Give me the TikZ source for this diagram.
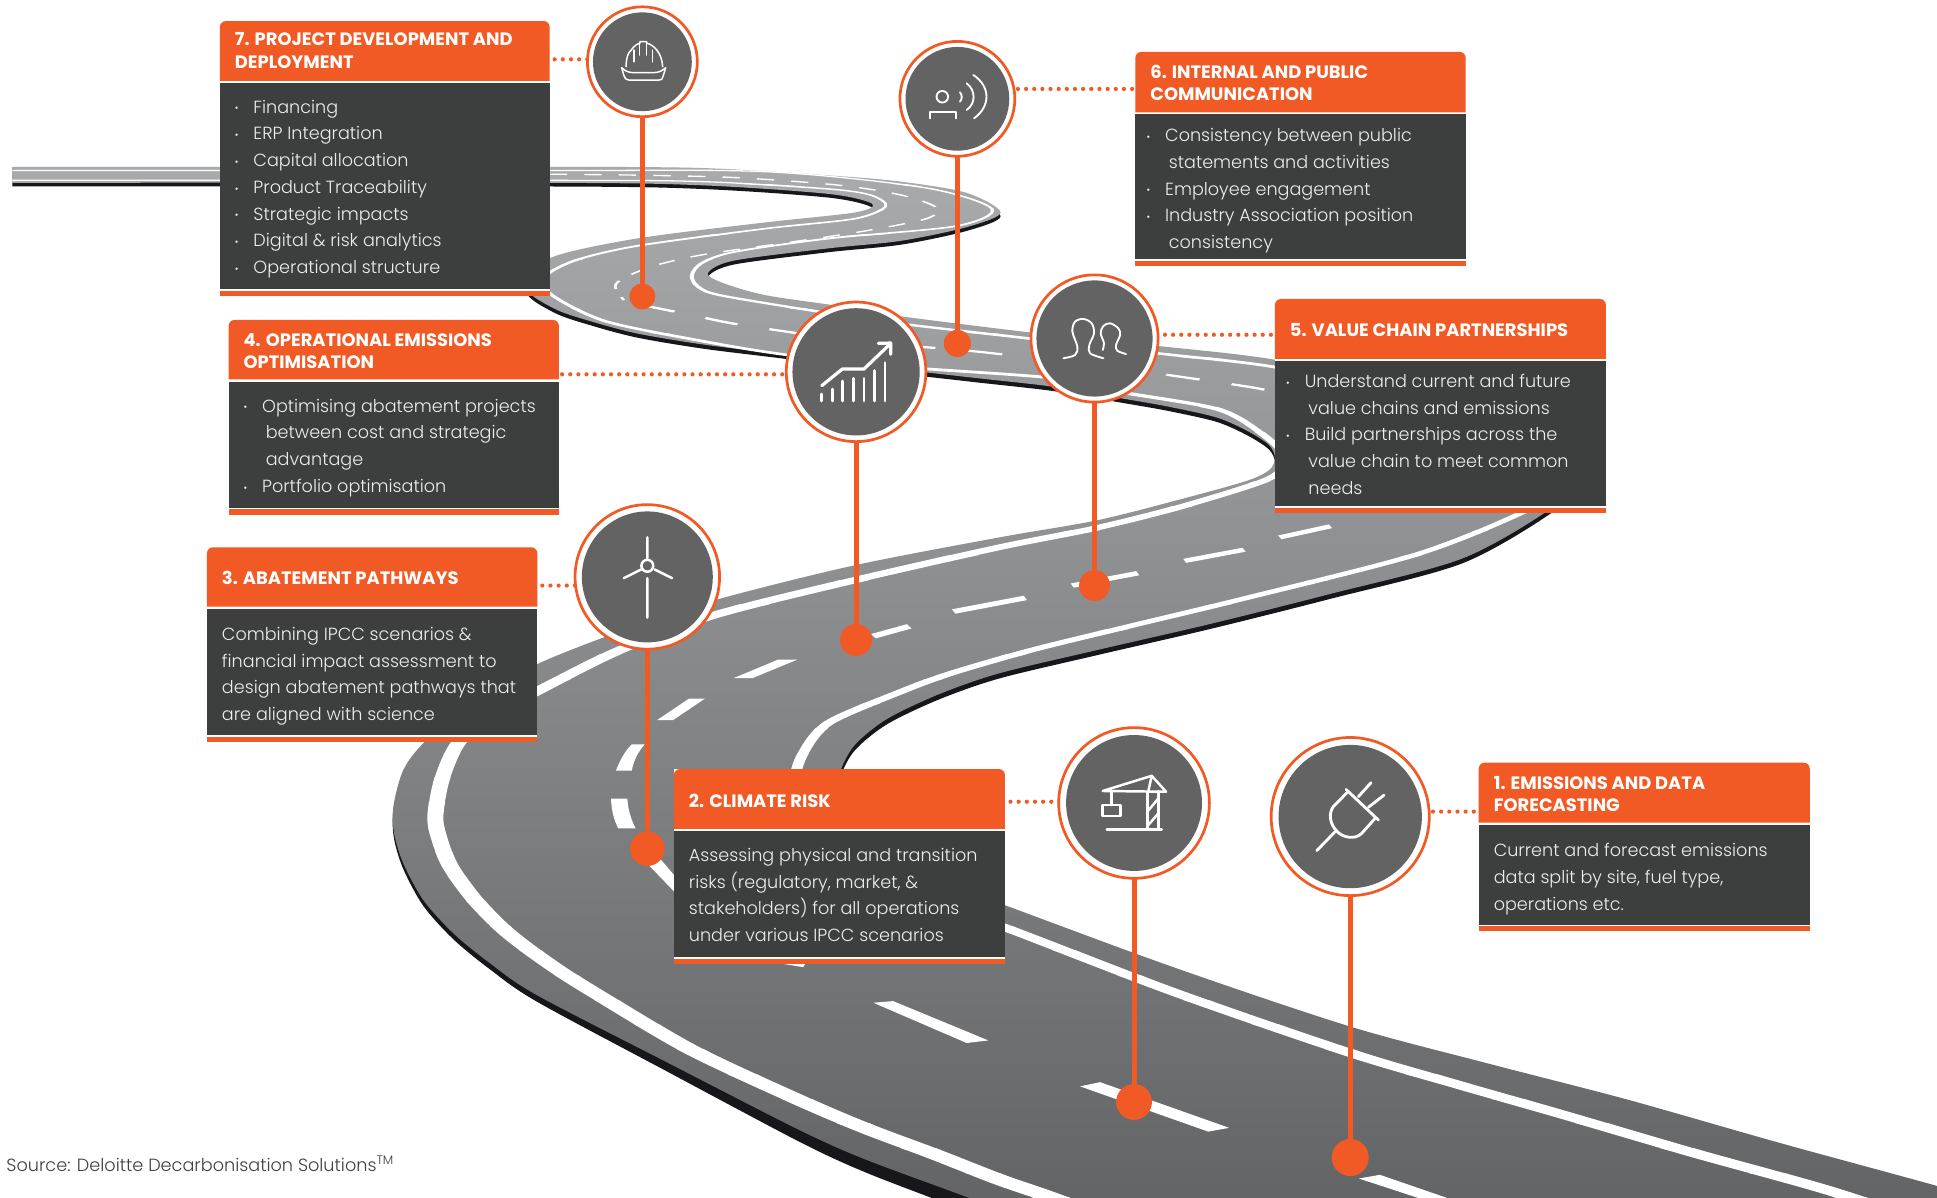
\documentclass[tikz,border=0pt]{standalone}
\usepackage{fontspec}
\setmainfont{Poppins Light}[BoldFont={Poppins Bold}]
\definecolor{og}{HTML}{F15A24}
\definecolor{boxd}{HTML}{3C3F3E}
\definecolor{disc}{HTML}{636363}
\definecolor{shadowk}{HTML}{17171B}
\definecolor{roadtop}{HTML}{A9AAAC}
\definecolor{roadbot}{HTML}{5E5F61}
\definecolor{bodytx}{HTML}{EDEDED}
\definecolor{srctx}{HTML}{404040}
\tikzset{
  ring/.style={circle,draw=og,line width=2.2pt,fill=white,inner sep=0pt,outer sep=0pt},
  discn/.style={circle,fill=disc,inner sep=0pt,outer sep=0pt},
  stem/.style={draw=og,line width=4pt},
  pin/.style={circle,fill=og,inner sep=0pt,outer sep=0pt},
  dotline/.style={draw=og,line width=3.4pt,line cap=round,dash pattern=on 0pt off 6.6pt},
  icon/.style={draw=white,line width=1.7pt,line cap=round,line join=round},
  hdrtx/.style={anchor=west,inner sep=0pt,align=left,text=white,font=\fontsize{14.5}{18}\selectfont\bfseries},
  bodytxt/.style={anchor=north west,inner sep=0pt,align=left,text=bodytx,font=\fontsize{14.25}{21.65}\selectfont},
}
\def\roadshape{plot[smooth,tension=.5] coordinates {(10,135)(300,135)(445,135)(568,136)(671,142)(729,147)(782,156)(810,172)(782,184)(729,195)(671,201)(594,211)(573,221)(585,229)(620,239)(681,248)(729,256)(833,269)(937,280)(1031,291)(1150,315)(1250,350)(1280,385)(1258,410)(1184,452)(1076,481)(980,505)(889,526)(809,545)(760,562)(718,582)(692,603)(680,625)(676,650)(695,685)(750,710)(814,733)(950,783)(1093,831)(1205,861)(1317,890)(1440,925)(1568,960)(1640,981)(1700,1000)}
 -- plot[smooth,tension=.5] coordinates {(950,1035)(870,1003)(782.5,969)(701.6,939)(647.6,915)(540,860)(434.5,805.5)(396.7,779.8)(367,755.5)(342.7,728.6)(326.5,698.9)(319,674.5)(318.4,653)(326.5,623.3)(344,600.4)(385,567)(434,538)(505,510)(578,486)(690,458)(809,435)(889,421)(960,403)(1010,389)(1028,380)(1032,370)(1027,360)(1010,349)(985,338)(945,329)(905,322)(852,313)(790,306)(729,299)(635,287)(570,279)(516,270)(478,260)(449,250)(426,233)(445,209)(516,193)(620,180)(692,172)(706,165)(671,157)(568,150)(445,148)(10,148)}
 -- cycle}
\def\whiteA{plot[smooth,tension=.5] coordinates {(10,138)(445,138)(620,139)(749,152)(803,169)(774,183)(671,193)(594,204)(568,213)(560,223)(565,232)(583,239)(661,252)(729,262)(833,274)(937,286)(1031,297)(1140,320)(1240,365)(1262,395)(1232,415)(1146,449)(1001,486)(918,506)(836,526)(770,545)(729,560)(671,585)(650,610)(643,635)(650,665)(680,695)(740,725)(814,751)(950,803)(1092,852)(1180,878)(1264,902)(1370,933)(1478,963)(1560,990)(1640,1015)}}
\def\whiteB{plot[smooth,tension=.5] coordinates {(10,146)(445,146)(568,147)(671,153)(705,158)(717,167)(692,177)(620,185)(516,199)(465,211)(440,225)(447,239)(490,260)(568,276)(635,287)(729,297)(852,306)(905,317)(985,331)(1020,350)(1040,370)(1028,387)(960,409)(889,427)(809,443)(690,470)(578,498)(500,527)(434,560)(400,578)(371.8,600.4)(358,630)(352.4,661)(356,680)(364.8,701.6)(384.5,728.6)(411.5,755.5)(448,782.5)(484.4,805.5)(560,850)(647.6,890.8)(701.6,913.7)(755.5,933.9)(809.5,955)(850,969)(920,995)}}
\newcommand{\cardbox}[7]{% x1 x2 y1 y2 y3 y4 y5
  \fill[white] (#1,#3) rectangle (#2,#7);
  \fill[og] (#1,#4) [rounded corners=5pt] -- (#1,#3) -- (#2,#3) [sharp corners] -- (#2,#4) -- cycle;
  \fill[boxd] (#1,#5) rectangle (#2,#6);
  \fill[og] (#1,#6+1.4) rectangle (#2,#7);
}
\newcommand{\bl}{\makebox[15pt][l]{\raisebox{1pt}{\fontsize{8}{8}\selectfont •}}}
\newcommand{\cn}{\hspace*{18pt}}
\begin{document}
\begin{tikzpicture}[x=1pt,y=-1pt]
\useasboundingbox (0,0) rectangle (1568,969);
\fill[white] (0,0) rectangle (1568,969);
\begin{scope}
\clip (0,0) rectangle (1568,969);
% road shadow
\begin{scope}[yshift=-2.5pt,yscale=1.0031]
\fill[shadowk] \roadshape;
\end{scope}
\begin{scope}
\clip (0,780) rectangle (1000,1000);
\begin{scope}[yshift=26.2pt,yscale=1.039]
\fill[shadowk] \roadshape;
\end{scope}
\end{scope}
% road surface
\shade[top color=roadtop,bottom color=roadbot] \roadshape;
% white lines and dashes: the pen is flattened by the perspective
\begin{scope}[transform canvas={yscale=0.5},y=-2pt]
\foreach \b in {130,150,...,990}{
  \pgfmathsetmacro\ym{\b+10}
  \pgfmathsetmacro\wa{2+0.0143*(\ym-135)}
  \pgfmathsetmacro\wb{\ym<300 ? 2+0.015*(\ym-135) : (\ym<500 ? 4.5+0.0315*(\ym-300) : 10.8+0.0137*(\ym-500))}
  \begin{scope}
  \clip (0,\b-0.3) rectangle (1600,\b+20.3);
  \draw[white,line width=\wa pt] \whiteA;
  \draw[white,line width=\wb pt] \whiteB;
  \end{scope}
}
\draw[white,line width=2.2pt,dash pattern=on 14pt off 14pt] plot[smooth,tension=.5] coordinates {(445,141)(530,142)(600,144)(680,150)(730,158)(758,168)(750,177)(700,187)(640,196)(570,206)(530,215)(505,225)(498,232)(505,243)};
\draw[white,line width=3.6pt,dash pattern=on 28pt off 27pt] plot[smooth,tension=.5] coordinates {(520,247)(560,255)(600,263)(700,277)(785,284)(900,297)(935,302)(1010,313)(1030,317)};
\foreach \ax/\ay/\bx/\by in {1036/435/1077/426,959/454/1007/445,868/474/921/464,772/495/830/484,707/515/736/507,633/777/652/780}{
  \pgfmathsetmacro\w{2+0.0155*(\ay-135)}
  \draw[white,line width=\w pt] (\ax,\ay) -- (\bx,\by);
}
\end{scope}
\fill[white] (498.6,623.9) .. controls (502,615) and (506,608) .. (511.4,602.5) -- (521.9,602.5) .. controls (517,608) and (513,615) .. (511.4,623.9) -- cycle;
\fill[white] (494.6,646.5) .. controls (495,656) and (497,664) .. (500.5,670.6) -- (514.6,670.6) .. controls (511,664) and (508.5,656) .. (507.8,646.5) -- cycle;
\fill[white] (531.8,583) -- (544.7,583) -- (570.5,565.6) -- (557.6,565.6) -- cycle;
\fill[white] (593.7,549) -- (609,549) -- (645.3,534) -- (629.8,534) -- cycle;
\fill[white] (520,695) -- (530,690) -- (547,710) -- (547,723) -- cycle;
\fill[white] (707,811.7) -- (723,810.4) -- (800,842.2) -- (782.5,844.3) -- cycle;
\fill[white] (874.3,879.4) -- (890.5,876) -- (995,913) -- (978,916) -- cycle;
\fill[white] (1100,954) -- (1117,951) -- (1178,972) -- (1155,972) -- cycle;
\end{scope}
% cards
\cardbox{178}{445}{17}{65.5}{67}{234}{240}
\cardbox{919}{1186.5}{42}{91}{92.5}{209.7}{215}
\cardbox{1032}{1300}{242}{290.6}{292}{409.5}{415}
\cardbox{185}{452.5}{259}{307}{309}{411}{417}
\cardbox{167.5}{435}{443}{491}{493}{595}{601}
\cardbox{545.5}{813.5}{622.5}{671}{673}{774.7}{780}
\cardbox{1197}{1465}{617.3}{666}{668}{748.5}{754}
% header texts
\node[hdrtx] (h7) at (190,41) {7. PROJECT DEVELOPMENT AND\\DEPLOYMENT};
\node[hdrtx] (h6) at (931,67) {6. INTERNAL AND PUBLIC\\COMMUNICATION};
\node[hdrtx] (h5) at (1044,267) {5. VALUE CHAIN PARTNERSHIPS};
\node[hdrtx] (h4) at (197,284) {4. OPERATIONAL EMISSIONS\\OPTIMISATION};
\node[hdrtx] (h3) at (179.5,468) {3. ABATEMENT PATHWAYS};
\node[hdrtx] (h2) at (557.5,648) {2. CLIMATE RISK};
\node[hdrtx] (h1) at (1209,642.5) {1. EMISSIONS AND DATA\\FORECASTING};
% body texts
\node[bodytxt] (b7) at (190,76.3) {\strut\bl Financing\\\bl ERP Integration\\\bl Capital allocation\\\bl Product Traceability\\\bl Strategic impacts\\\bl Digital \& risk analytics\\\bl Operational structure};
\node[bodytxt] (b6) at (928,99.3) {\strut\bl Consistency between public\\\cn statements and activities\\\bl Employee engagement\\\bl Industry Association position\\\cn consistency};
\node[bodytxt] (b5) at (1041,298.3) {\strut\bl Understand current and future\\\cn value chains and emissions\\\bl Build partnerships across the\\\cn value chain to meet common\\\cn needs};
\node[bodytxt] (b4) at (197,318.3) {\strut\bl Optimising abatement projects\\\cn between cost and strategic\\\cn advantage\\\bl Portfolio optimisation};
\node[bodytxt] (b3) at (179.5,503) {\strut Combining IPCC scenarios \&\\financial impact assessment to\\design abatement pathways that\\are aligned with science};
\node[bodytxt] (b2) at (557.5,682) {\strut Assessing physical and transition\\risks (regulatory, market, \&\\stakeholders) for all operations\\under various IPCC scenarios};
\node[bodytxt] (b1) at (1209,678) {\strut Current and forecast emissions\\data split by site, fuel type,\\operations etc.};
% circle centres, pins, stems, dotted connectors
\path (520,50) coordinate (o7) (775,80) coordinate (o6) (693,301) coordinate (o4) (886,274) coordinate (o5) (524,467) coordinate (o3) (918,650) coordinate (o2) (1093,661) coordinate (o1);
\node[pin,minimum size=21] (p7) at (520,240) {};
\node[pin,minimum size=22] (p6) at (775,278) {};
\node[pin,minimum size=26] (p4) at (693,518) {};
\node[pin,minimum size=25] (p5) at (886,474) {};
\node[pin,minimum size=28] (p3) at (524,687) {};
\node[pin,minimum size=29] (p2) at (918,892) {};
\node[pin,minimum size=30] (p1) at (1093,937) {};
\draw[stem] (o7) -- (p7);
\draw[stem] (o6) -- (p6);
\draw[stem] (o4) -- (p4);
\draw[stem] (o5) -- (p5);
\draw[stem] (o3) -- (p3);
\draw[stem] (o2) -- (p2);
\draw[stem] (o1) -- (p1);
\coordinate (d7) at (449,48);
\coordinate (d6) at (824,72);
\coordinate (d4) at (455,303);
\coordinate (d5) at (943,271);
\coordinate (d3) at (439,474);
\coordinate (d2) at (818,649);
\coordinate (d1) at (1160,657);
\draw[dotline] (d7) -- (d7 -| o7);
\draw[dotline] (d6) -- (d6 -| h6.west);
\draw[dotline] (d4) -- (d4 -| o4);
\draw[dotline] (d5) -- (d5 -| h5.west);
\draw[dotline] (d3) -- (d3 -| o3);
\draw[dotline] (d2) -- (d2 -| o2);
\draw[dotline] (d1) -- (d1 -| h1.west);
\node[ring,minimum size=89] (c7) at (o7) {};
\node[discn,minimum size=80] (i7) at (o7) {};
\node[ring,minimum size=93] (c6) at (o6) {};
\node[discn,minimum size=84] (i6) at (o6) {};
\node[ring,minimum size=113] (c4) at (o4) {};
\node[discn,minimum size=103] (i4) at (o4) {};
\node[ring,minimum size=103] (c5) at (o5) {};
\node[discn,minimum size=94] (i5) at (o5) {};
\node[ring,minimum size=117] (c3) at (o3) {};
\node[discn,minimum size=106] (i3) at (o3) {};
\node[ring,minimum size=122] (c2) at (o2) {};
\node[discn,minimum size=110] (i2) at (o2) {};
\node[ring,minimum size=128] (c1) at (o1) {};
\node[discn,minimum size=116] (i1) at (o1) {};
% icon: helmet
\begin{scope}[icon/.append style={line width=1.2pt}]
\draw[icon] (506.8,54) .. controls (507,47) and (508,43) .. (511,40.5) .. controls (513,37.5) and (515.5,35.5) .. (518,35) -- (518,33.7) -- (523.5,33.7) -- (523.5,35) .. controls (529,36) and (536,43) .. (536.4,54);
\draw[icon] (517.6,35) -- (517.6,44.6) (523.5,35) -- (523.5,44.6) (513.3,40.5) -- (513.3,50) (528.4,40.5) -- (528.4,50);
\draw[icon] (503.2,54.8) .. controls (506,57.5) and (509,58.8) .. (512.6,58.8) -- (528.9,58.8) .. controls (533,58.8) and (536,57.5) .. (538.9,54.8) -- (537,61) .. controls (536.5,63.5) and (536,64.8) .. (533,64.8) -- (509,64.8) .. controls (506.5,64.8) and (506,63.5) .. (505,61) -- cycle;
\end{scope}
% icon: person speaking
\begin{scope}[icon/.append style={line width=1.5pt}]
\draw[icon] (762.8,78.3) circle (4.7);
\draw[icon] (752.9,95.8) -- (752.9,90.4) -- (773.6,90.4) -- (773.6,95.8);
\draw[icon] (777.1,74.7) .. controls (779,77) and (779,80) .. (777.1,82.3);
\draw[icon] (782.5,67.5) .. controls (790,73) and (790,84) .. (782.5,89);
\draw[icon] (787.9,60.7) .. controls (802,70) and (802,86) .. (788.5,95.8);
\end{scope}
% icon: chart
\begin{scope}[icon/.append style={line width=2.3pt}]
\draw[icon] (665.2,324.6) -- (665.2,319) (673.8,324.6) -- (673.8,314.9) (682.2,324.6) -- (682.2,308.4) (690.8,324.6) -- (690.8,306.3) (699.4,324.6) -- (699.4,306.3) (707.8,324.6) -- (707.8,300) (716.4,324.6) -- (716.4,293.6);
\draw[icon,line width=2.6pt] (665.2,312.2) -- (681.9,298.7) -- (699.4,298.7) -- (721,278);
\draw[icon,line width=2.6pt] (711,277.9) -- (721,277.7) -- (721,286.8);
\end{scope}
% icon: people
\draw[icon,line width=1.5pt] plot[smooth,tension=.55] coordinates {(860.8,290)(870.2,287.4)(872.1,280.6)(868.1,268.5)(870.2,260.4)(877,258.2)(883.7,261.7)(885.6,269.8)(881.8,279.3)(882.4,286)(893.2,290)};
\draw[icon,line width=1.5pt] plot[smooth,tension=.55] coordinates {(892.6,283.3)(893.7,277.9)(891,269.8)(893.2,263.9)(898.6,261.7)(905.3,265.8)(906.7,271.2)(903.4,279.3)(904.5,283.9)(911.5,286.6)};
% icon: wind turbine
\draw[icon,line width=2pt] (524,458) circle (4.8);
\draw[icon,line width=2pt] (524,435) -- (524,452) (505,468) -- (519,461) (544,468) -- (530,461) (524,468) -- (524,500);
% icon: crane
\begin{scope}[icon/.append style={line width=2pt}]
\draw[icon] (895.9,671.4) -- (940.4,671.4);
\draw[icon] (928.8,671.4) -- (928.8,640.5) (937.7,671.4) -- (937.7,640.5);
\draw[icon] (928.8,657) -- (937.7,646.3) (928.8,668.7) -- (937.7,658.4);
\draw[icon] (892.6,640.3) -- (932.3,628) -- (943.9,640.9) -- cycle (932.3,628) -- (929.6,640.3);
\draw[icon] (899.9,640.3) -- (899.9,651.7);
\draw[icon] (892.6,651.7) rectangle (907.2,660.6);
\end{scope}
% icon: plug
\begin{scope}[icon/.append style={line width=2.3pt}]
\draw[icon] (1065.9,688.6) -- (1080.7,673.3);
\draw[icon] (1089.6,639) -- (1115.8,663.8);
\draw[icon] (1091,641) -- (1079.3,653) .. controls (1075.5,658) and (1076,667) .. (1082.6,673.3) .. controls (1087,678) and (1097,680) .. (1102.3,674.6) -- (1113.1,662.5);
\draw[icon] (1099.6,644.9) -- (1109.8,633.6) (1107.7,653.5) -- (1120.4,643.6);
\end{scope}
% source
\node[anchor=base west,inner sep=0pt,text=srctx,font=\fontsize{14.3}{17}\selectfont] (src) at (5,948) {Source: Deloitte Decarbonisation Solutions\textsuperscript{TM}};
\end{tikzpicture}
\end{document}
